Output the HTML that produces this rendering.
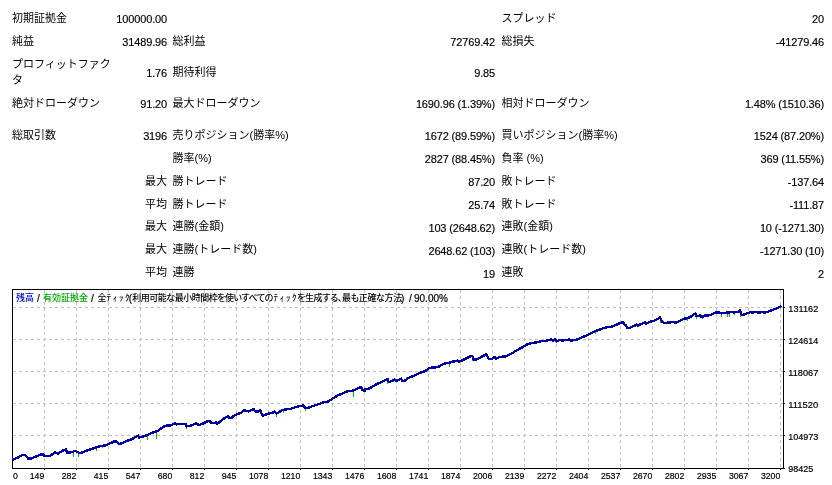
<!DOCTYPE html>
<html><head><meta charset="utf-8"><title>Strategy Tester Report</title>
<style>
html,body{margin:0;padding:0;background:#fff;}
body{width:832px;height:485px;position:relative;overflow:hidden;font-family:"Liberation Sans", "Noto Sans CJK JP", sans-serif;color:#000;}
.t{position:absolute;font-size:11px;line-height:13px;white-space:nowrap;}
.r{text-align:right;}
.n{letter-spacing:-0.15px;-webkit-text-stroke:0.15px #000;}
.ch{position:absolute;left:0;top:0;}
.ax{font-family:"Liberation Sans", "Noto Sans CJK JP", sans-serif;font-size:9.6px;fill:#000;stroke:#000;stroke-width:0.2px;}
.lg{position:absolute;left:0;top:293px;width:832px;height:12px;}
.lg span{position:absolute;top:0;white-space:nowrap;line-height:11px;color:#000;}
.lc{font-size:9px;font-feature-settings:'palt';font-weight:500;}
.la{font-family:'Liberation Sans',sans-serif;font-size:10px;-webkit-text-stroke:0.2px #000;}
</style></head><body>
<div class="t" style="left:12px;top:12px">初期証拠金</div>
<div class="t r n" style="right:665px;top:13px">100000.00</div>
<div class="t" style="left:501.5px;top:12px">スプレッド</div>
<div class="t r n" style="right:8px;top:13px">20</div>
<div class="t" style="left:12px;top:35px">純益</div>
<div class="t r n" style="right:665px;top:36px">31489.96</div>
<div class="t" style="left:172.6px;top:35px">総利益</div>
<div class="t r n" style="right:337px;top:36px">72769.42</div>
<div class="t" style="left:501.5px;top:35px">総損失</div>
<div class="t r n" style="right:8px;top:36px">-41279.46</div>
<div class="t r n" style="right:665px;top:67px">1.76</div>
<div class="t" style="left:172.6px;top:66px">期待利得</div>
<div class="t r n" style="right:337px;top:67px">9.85</div>
<div class="t" style="left:12px;top:97px">絶対ドローダウン</div>
<div class="t r n" style="right:665px;top:98px">91.20</div>
<div class="t" style="left:172.6px;top:97px">最大ドローダウン</div>
<div class="t r n" style="right:337px;top:98px">1690.96 (1.39%)</div>
<div class="t" style="left:501.5px;top:97px">相対ドローダウン</div>
<div class="t r n" style="right:8px;top:98px">1.48% (1510.36)</div>
<div class="t" style="left:12px;top:129px">総取引数</div>
<div class="t r n" style="right:665px;top:130px">3196</div>
<div class="t" style="left:172.6px;top:129px">売りポジション(勝率%)</div>
<div class="t r n" style="right:337px;top:130px">1672 (89.59%)</div>
<div class="t" style="left:501.5px;top:129px">買いポジション(勝率%)</div>
<div class="t r n" style="right:8px;top:130px">1524 (87.20%)</div>
<div class="t" style="left:172.6px;top:152px">勝率(%)</div>
<div class="t r n" style="right:337px;top:153px">2827 (88.45%)</div>
<div class="t" style="left:501.5px;top:152px">負率 (%)</div>
<div class="t r n" style="right:8px;top:153px">369 (11.55%)</div>
<div class="t r" style="right:665px;top:175px">最大</div>
<div class="t" style="left:172.6px;top:175px">勝トレード</div>
<div class="t r n" style="right:337px;top:176px">87.20</div>
<div class="t" style="left:501.5px;top:175px">敗トレード</div>
<div class="t r n" style="right:8px;top:176px">-137.64</div>
<div class="t r" style="right:665px;top:198px">平均</div>
<div class="t" style="left:172.6px;top:198px">勝トレード</div>
<div class="t r n" style="right:337px;top:199px">25.74</div>
<div class="t" style="left:501.5px;top:198px">敗トレード</div>
<div class="t r n" style="right:8px;top:199px">-111.87</div>
<div class="t r" style="right:665px;top:220px">最大</div>
<div class="t" style="left:172.6px;top:220px">連勝(金額)</div>
<div class="t r n" style="right:337px;top:222px">103 (2648.62)</div>
<div class="t" style="left:501.5px;top:220px">連敗(金額)</div>
<div class="t r n" style="right:8px;top:222px">10 (-1271.30)</div>
<div class="t r" style="right:665px;top:243px">最大</div>
<div class="t" style="left:172.6px;top:243px">連勝(トレード数)</div>
<div class="t r n" style="right:337px;top:245px">2648.62 (103)</div>
<div class="t" style="left:501.5px;top:243px">連敗(トレード数)</div>
<div class="t r n" style="right:8px;top:245px">-1271.30 (10)</div>
<div class="t r" style="right:665px;top:266px">平均</div>
<div class="t" style="left:172.6px;top:266px">連勝</div>
<div class="t r n" style="right:337px;top:268px">19</div>
<div class="t" style="left:501.5px;top:266px">連敗</div>
<div class="t r n" style="right:8px;top:268px">2</div>
<div class="t" style="left:12px;top:58px">プロフィットファク</div>
<div class="t" style="left:12px;top:74px">タ</div>
<svg class="ch" width="832" height="485" viewBox="0 0 832 485">
<path d="M13 307.5H783 M13 339.5H783 M13 371.5H783 M13 403.5H783 M13 435.5H783 M44.5 290V468 M76.5 290V468 M108.5 290V468 M140.5 290V468 M172.5 290V468 M204.5 290V468 M236.5 290V468 M268.5 290V468 M300.5 290V468 M332.5 290V468 M364.5 290V468 M396.5 290V468 M428.5 290V468 M460.5 290V468 M492.5 290V468 M524.5 290V468 M556.5 290V468 M588.5 290V468 M620.5 290V468 M652.5 290V468 M684.5 290V468 M716.5 290V468 M748.5 290V468 M780.5 290V468" stroke="#c0c0c0" stroke-width="1" stroke-dasharray="3 3" fill="none"/>
<path d="M784 307.5h1 M784 339.5h1 M784 371.5h1 M784 403.5h1 M784 435.5h1 M784 468.5h1 M44.5 469v1 M76.5 469v1 M108.5 469v1 M140.5 469v1 M172.5 469v1 M204.5 469v1 M236.5 469v1 M268.5 469v1 M300.5 469v1 M332.5 469v1 M364.5 469v1 M396.5 469v1 M428.5 469v1 M460.5 469v1 M492.5 469v1 M524.5 469v1 M556.5 469v1 M588.5 469v1 M620.5 469v1 M652.5 469v1 M684.5 469v1 M716.5 469v1 M748.5 469v1 M780.5 469v1" stroke="#000" stroke-width="1" fill="none"/>
<path d="M12.5 289V469 M783.5 289V469 M12 289.5H784 M12 468.5H784" stroke="#000" stroke-width="1" fill="none"/>
<path d="M73.5 451V457 M78.5 452V457 M96.5 448V451 M102.5 446V448 M305.5 408V411 M353.5 390V397 M449.5 362V367 M472.5 357V361 M660.5 320V323 M687.5 318V321 M696.5 316V319 M702.5 316V319 M711.5 314V315 M721.5 313V317 M727.5 313V317 M729.5 313V317 M734.5 312V315 M740.5 314V317 M147.5 436V440 M156.5 432V439 M186.5 426V429 M219.5 420V423 M232.5 415V417 M256.5 410V413 M262.5 415V417 M276.5 413V417 M283.5 410V413 M387.5 380V384 M406.5 377V379 M595.5 331V334" stroke="#00c000" stroke-width="1" fill="none" shape-rendering="crispEdges"/>
<polyline points="12.4,459.7 17.2,457.9 22.0,455.2 24.4,454.9 26.2,456.0 28.0,458.5 31.6,458.5 34.0,457.3 40.0,454.9 42.5,454.0 44.3,456.0 46.0,456.3 49.7,456.0 55.0,452.5 58.0,453.6 62.9,450.6 65.9,449.4 67.0,452.5 70.0,452.7 74.9,451.0 76.7,451.5 79.7,453.0 82.0,452.5 86.9,450.6 94.1,448.2 100.0,446.2 105.0,445.5 109.8,443.5 114.0,441.5 115.2,440.9 117.0,442.3 119.4,443.9 121.8,443.3 125.4,441.5 130.0,439.9 133.8,438.2 136.7,436.2 138.2,435.6 139.1,437.5 141.5,437.0 144.4,436.0 146.8,435.3 149.2,434.1 153.1,432.4 156.9,431.2 158.8,430.3 161.7,427.9 164.6,426.2 167.5,425.3 170.4,425.5 172.3,424.7 174.7,423.3 176.2,424.5 178.1,424.0 181.9,423.8 185.8,423.8 186.5,426.4 189.6,426.0 192.5,425.0 196.3,423.1 197.8,424.5 199.2,425.0 203.1,423.5 206.9,421.6 210.0,420.7 211.0,423.2 213.0,423.0 216.0,422.5 216.7,423.8 219.1,422.5 221.5,420.6 224.4,418.2 227.8,416.3 229.2,417.7 231.6,417.7 234.0,415.8 237.9,413.9 240.8,412.9 244.6,410.0 246.5,411.0 248.5,411.5 252.3,409.7 253.8,409.3 255.2,411.5 258.1,411.5 260.5,410.3 261.4,413.4 262.4,415.5 263.8,415.5 266.7,414.3 269.6,413.2 272.5,412.9 274.4,411.7 276.3,413.6 279.2,412.0 282.1,410.0 285.0,409.5 286.9,409.3 290.0,409.1 291.3,408.6 296.2,406.8 299.8,406.0 303.4,405.5 305.2,407.9 308.2,407.9 313.0,406.0 319.0,404.0 325.0,401.9 327.5,401.9 332.3,398.8 337.0,395.8 343.0,393.4 347.9,391.0 352.7,390.7 357.5,388.6 361.1,386.8 362.3,389.8 364.7,390.7 365.0,389.1 368.8,388.7 371.7,387.2 375.6,384.8 379.4,382.9 383.3,381.2 386.2,379.8 387.6,379.0 388.1,381.4 390.0,381.9 392.9,380.5 394.3,379.5 396.7,380.8 399.1,379.8 401.1,378.6 402.0,380.8 404.4,381.0 407.3,378.6 410.2,377.1 414.0,375.7 417.9,373.8 421.7,372.3 425.6,370.9 428.0,369.0 429.4,368.0 433.3,367.3 436.2,367.3 439.0,366.5 440.0,365.7 442.9,364.2 445.8,363.3 448.7,363.1 451.5,361.8 455.4,361.3 457.8,360.6 459.2,361.8 463.1,359.9 466.9,358.0 469.8,356.5 472.5,356.1 473.2,359.4 476.5,359.6 479.4,358.0 483.3,355.8 486.2,354.4 487.5,356.5 488.6,358.7 491.9,358.7 494.3,357.0 495.8,358.5 499.6,357.0 503.5,356.5 505.4,356.7 509.2,354.6 513.1,352.7 515.0,351.4 519.3,349.0 523.7,346.5 528.0,344.0 532.3,342.9 536.6,342.5 541.0,341.1 545.3,340.8 549.6,340.0 551.2,338.9 552.9,340.6 555.0,339.3 556.6,341.4 559.4,340.0 562.6,340.6 565.8,340.0 569.1,339.5 571.3,340.6 575.6,340.0 578.8,338.9 583.2,336.8 587.5,335.1 591.8,333.0 596.1,330.8 600.0,329.5 603.8,328.1 607.7,326.9 612.5,326.6 615.4,325.2 618.3,323.8 620.2,322.8 623.1,322.3 624.0,324.2 626.0,325.2 627.4,328.1 628.8,328.3 631.7,326.9 634.6,325.7 636.5,324.7 638.0,325.7 640.4,324.2 643.3,323.3 644.7,322.1 646.2,323.8 649.0,322.3 651.9,321.2 654.8,320.4 657.7,318.9 660.1,317.3 661.0,319.4 662.0,321.8 664.4,322.8 666.3,323.1 668.3,322.3 670.2,322.5 673.1,321.8 675.0,322.8 676.9,322.1 680.0,320.9 683.8,318.7 687.7,318.2 690.6,316.8 693.5,314.5 695.4,313.6 696.3,315.8 698.3,316.3 699.7,315.1 701.2,316.8 703.1,316.5 705.0,315.3 707.9,315.5 710.8,314.8 713.2,313.6 715.6,312.4 718.5,312.4 721.3,313.4 724.2,312.9 728.1,312.4 731.0,312.2 734.8,312.4 737.7,311.9 740.1,310.5 740.8,313.5 742.4,315.1 745.4,313.9 747.8,313.0 750.8,312.1 753.2,312.7 755.6,311.8 759.2,312.7 762.2,312.1 764.6,312.7 767.0,312.1 769.4,311.2 771.9,310.0 774.9,309.1 777.9,307.9 780.3,306.7 781.5,305.8" stroke="#0000a0" stroke-width="2.4" fill="none" stroke-linejoin="round" shape-rendering="crispEdges"/>
<text x="788.3" y="311.8" class="ax" textLength="30.00" lengthAdjust="spacingAndGlyphs">131162</text>
<text x="788.3" y="343.8" class="ax" textLength="30.00" lengthAdjust="spacingAndGlyphs">124614</text>
<text x="788.3" y="375.8" class="ax" textLength="30.00" lengthAdjust="spacingAndGlyphs">118067</text>
<text x="788.3" y="407.8" class="ax" textLength="30.00" lengthAdjust="spacingAndGlyphs">111520</text>
<text x="788.3" y="439.8" class="ax" textLength="30.00" lengthAdjust="spacingAndGlyphs">104973</text>
<text x="788.3" y="471.8" class="ax" textLength="25.00" lengthAdjust="spacingAndGlyphs">98425</text>
<text x="13" y="479.2" class="ax" textLength="4.85" lengthAdjust="spacingAndGlyphs">0</text>
<text x="44.3" y="479.2" class="ax" text-anchor="end" textLength="14.55" lengthAdjust="spacingAndGlyphs">149</text>
<text x="76.3" y="479.2" class="ax" text-anchor="end" textLength="14.55" lengthAdjust="spacingAndGlyphs">282</text>
<text x="108.3" y="479.2" class="ax" text-anchor="end" textLength="14.55" lengthAdjust="spacingAndGlyphs">415</text>
<text x="140.3" y="479.2" class="ax" text-anchor="end" textLength="14.55" lengthAdjust="spacingAndGlyphs">547</text>
<text x="172.3" y="479.2" class="ax" text-anchor="end" textLength="14.55" lengthAdjust="spacingAndGlyphs">680</text>
<text x="204.3" y="479.2" class="ax" text-anchor="end" textLength="14.55" lengthAdjust="spacingAndGlyphs">812</text>
<text x="236.3" y="479.2" class="ax" text-anchor="end" textLength="14.55" lengthAdjust="spacingAndGlyphs">945</text>
<text x="268.3" y="479.2" class="ax" text-anchor="end" textLength="19.40" lengthAdjust="spacingAndGlyphs">1078</text>
<text x="300.3" y="479.2" class="ax" text-anchor="end" textLength="19.40" lengthAdjust="spacingAndGlyphs">1210</text>
<text x="332.3" y="479.2" class="ax" text-anchor="end" textLength="19.40" lengthAdjust="spacingAndGlyphs">1343</text>
<text x="364.3" y="479.2" class="ax" text-anchor="end" textLength="19.40" lengthAdjust="spacingAndGlyphs">1476</text>
<text x="396.3" y="479.2" class="ax" text-anchor="end" textLength="19.40" lengthAdjust="spacingAndGlyphs">1608</text>
<text x="428.3" y="479.2" class="ax" text-anchor="end" textLength="19.40" lengthAdjust="spacingAndGlyphs">1741</text>
<text x="460.3" y="479.2" class="ax" text-anchor="end" textLength="19.40" lengthAdjust="spacingAndGlyphs">1874</text>
<text x="492.3" y="479.2" class="ax" text-anchor="end" textLength="19.40" lengthAdjust="spacingAndGlyphs">2006</text>
<text x="524.3" y="479.2" class="ax" text-anchor="end" textLength="19.40" lengthAdjust="spacingAndGlyphs">2139</text>
<text x="556.3" y="479.2" class="ax" text-anchor="end" textLength="19.40" lengthAdjust="spacingAndGlyphs">2272</text>
<text x="588.3" y="479.2" class="ax" text-anchor="end" textLength="19.40" lengthAdjust="spacingAndGlyphs">2404</text>
<text x="620.3" y="479.2" class="ax" text-anchor="end" textLength="19.40" lengthAdjust="spacingAndGlyphs">2537</text>
<text x="652.3" y="479.2" class="ax" text-anchor="end" textLength="19.40" lengthAdjust="spacingAndGlyphs">2670</text>
<text x="684.3" y="479.2" class="ax" text-anchor="end" textLength="19.40" lengthAdjust="spacingAndGlyphs">2802</text>
<text x="716.3" y="479.2" class="ax" text-anchor="end" textLength="19.40" lengthAdjust="spacingAndGlyphs">2935</text>
<text x="748.3" y="479.2" class="ax" text-anchor="end" textLength="19.40" lengthAdjust="spacingAndGlyphs">3067</text>
<text x="780.3" y="479.2" class="ax" text-anchor="end" textLength="19.40" lengthAdjust="spacingAndGlyphs">3200</text>
</svg>
<div class="lg"><span class="lc" style="left:16px;letter-spacing:0px;color:#0000c8">残高</span><span class="la" style="left:37px">/</span><span class="lc" style="left:43px;letter-spacing:0px;color:#00a800">有効証拠金</span><span class="la" style="left:91px">/</span><span class="lc" style="left:97.5px;letter-spacing:0px;">全</span><span class="lc" style="left:106.5px;letter-spacing:1.7px;">ﾃｨｯｸ</span><span class="la" style="left:128.8px">(</span><span class="lc" style="left:132.3px;letter-spacing:-0.5px;">利用可能な最小時間枠を使いすべての</span><span class="lc" style="left:273.5px;letter-spacing:1.7px;">ﾃｨｯｸ</span><span class="lc" style="left:297px;letter-spacing:-0.35px;">を生成する、最も正確な方法</span><span class="la" style="left:401px">)</span><span class="la" style="left:409px">/</span><span class="la" style="left:414px">90.00%</span></div>
</body></html>
